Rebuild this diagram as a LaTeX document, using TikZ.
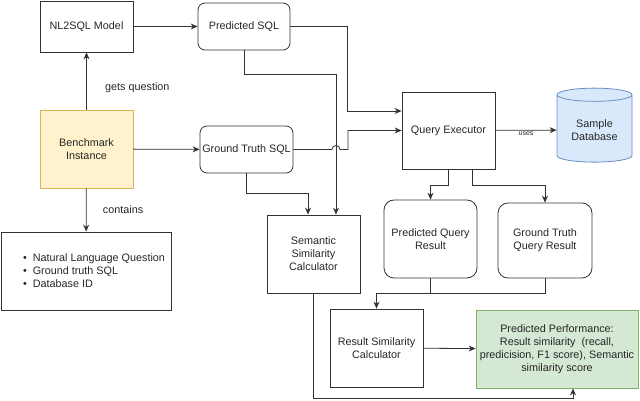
\documentclass[tikz,border=0pt]{standalone}
\usepackage{fontspec}
\setmainfont{Liberation Sans}
\usetikzlibrary{arrows.meta,shapes.geometric}
\definecolor{linec}{HTML}{333333}
\definecolor{yfill}{HTML}{FFF2CC}
\definecolor{ydraw}{HTML}{D6B656}
\definecolor{gfill}{HTML}{D5E8D4}
\definecolor{gdraw}{HTML}{82B366}
\definecolor{bfill}{HTML}{DAE8FC}
\definecolor{bdraw}{HTML}{6C8EBF}
\newcommand{\diag}{\fontsize{10.8}{13}\selectfont}
\newcommand{\itm}[1]{\hspace*{16pt}\textbullet\hspace{6pt}#1}

\begin{document}
\begin{tikzpicture}[x=1pt,y=-1pt,
    box/.style={draw=linec, line width=0.8pt, text=black!85, align=center, font=\diag, minimum width=93pt, minimum height=78pt, inner sep=2pt},
    rbox/.style={box, rounded corners=7pt},
    ln/.style={draw=linec, line width=0.8pt},
    arr/.style={ln, -{Stealth[length=7pt,width=6pt]}},
    lbl/.style={font=\diag, text=black!85},
    ]
    \useasboundingbox (0,0) rectangle (640,401);
    % nodes
    \node[box, minimum height=51pt] (nl2sql) at (86.5,26.5) {NL2SQL Model};
    \node[rbox, minimum width=92pt, minimum height=47pt] (predsql) at (244,26.5) {Predicted SQL};
    \node[box, fill=yfill, draw=ydraw] (bench) at (86.5,149) {Benchmark\\Instance};
    \node[rbox, minimum height=47pt] (gtsql) at (246.5,149.5) {Ground Truth SQL};
    \node[box, minimum height=77pt] (qexec) at (448.5,130.5) {Query Executor};
    \node[cylinder, shape border rotate=90, aspect=0.25, draw=bdraw, fill=bfill, line width=0.8pt,
      minimum width=75pt, minimum height=74pt, align=center, font=\diag, text=black!85] (sampledb) at (594.5,130) {Sample\\Database};
    \node[rbox, rounded corners=10pt] (predres) at (430.5,239) {Predicted Query\\Result};
    \node[rbox, rounded corners=10pt, minimum width=94pt, minimum height=75pt] (gtres) at (545,240.5) {Ground Truth\\Query Result};
    \node[box] (semsim) at (313.5,254) {Semantic\\Similarity\\Calculator};
    \node[box] (ressim) at (376.5,348) {Result Similarity\\Calculator};
    \node[box, minimum width=162pt, fill=gfill, draw=gdraw] (perf) at (557,349)
      {Predicted Performance:\\Result similarity\ \ (recall,\\predicision, F1 score), Semantic\\similarity score};
    \node[box, minimum width=170pt, align=left] (info) at (86,271)
      {\itm{Natural Language Question}\\\itm{Ground truth SQL}\\\itm{Database ID}};
    % connectors
    \draw[arr] (nl2sql) -- (predsql);
    \draw[arr] (bench) -- node[lbl, anchor=west, xshift=15pt, yshift=-7pt] {gets question} (nl2sql);
    \draw[arr] (bench) -- (gtsql);
    \draw[arr] (bench) -- node[lbl, anchor=west, xshift=13pt] {contains} (info);
    \draw[arr] (predsql.east) -- ++(57,0) |- ([yshift=19.5pt]qexec.west);
    \draw[arr] (predsql.south) -- ++(0,24) -| ([xshift=22.5pt]semsim.north);
    \draw[arr] (gtsql.east) -- (332,149.5) arc[start angle=180, end angle=360, radius=4] -- (348,149.5) |- (qexec.west);
    \draw[arr] (gtsql.south) -- ++(0,20) -| ([xshift=-5.5pt]semsim.north);
    \draw[arr] (qexec) -- node[font=\fontsize{7}{8}\selectfont, text=black!85, fill=white, inner sep=0.5pt, yshift=-3pt] {uses} (sampledb);
    \draw[arr] (qexec.south) -- ++(0,16) -| (predres.north);
    \draw[arr] ([xshift=23.5pt]qexec.south) -- ++(0,16) -| (gtres.north);
    \draw[ln] (predres.south) -- ++(0,15);
    \draw[arr] (gtres.south) -- ++(0,15) -| (ressim.north);
    \draw[arr] (ressim) -- (perf);
    \draw[arr] (semsim.south) -- ++(0,105) -| ([xshift=16pt]perf.south);
\end{tikzpicture}
\end{document}
